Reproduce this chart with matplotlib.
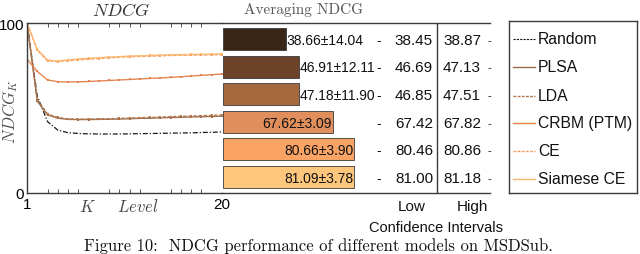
import matplotlib
matplotlib.use("Agg")
import matplotlib.pyplot as plt
from matplotlib.transforms import blended_transform_factory

plt.rcParams['mathtext.fontset'] = 'cm'
plt.rcParams['font.family'] = ['Liberation Sans', 'DejaVu Sans']

# ---------------- data ----------------
models = ["Random", "PLSA", "LDA", "CRBM (PTM)", "CE", "Siamese CE"]
K = list(range(1, 21))
ndcg_random = [100, 57, 42, 37, 35.5, 35, 34.8, 34.7, 34.7, 34.7, 34.8, 34.9, 35, 35.1, 35.2, 35.3, 35.4, 35.6, 35.7, 35.9]
ndcg_plsa = [100, 54, 46, 44, 43.3, 43.2, 43.2, 43.3, 43.4, 43.5, 43.7, 43.9, 44, 44.2, 44.4, 44.5, 44.7, 44.9, 45, 45.2]
ndcg_lda = [100, 55, 46.5, 44.5, 43.6, 43.5, 43.5, 43.6, 43.7, 43.9, 44.1, 44.3, 44.5, 44.7, 44.9, 45.1, 45.3, 45.5, 45.7, 45.9]
ndcg_crbm = [78.8, 71.5, 66.5, 65.5, 65.3, 65.4, 65.6, 65.9, 66.2, 66.5, 66.8, 67.1, 67.4, 67.7, 68, 68.4, 68.8, 69.2, 69.6, 70]
ndcg_ce = [100, 84, 77.8, 77.3, 77.8, 78.3, 78.7, 79.1, 79.5, 79.8, 80.1, 80.3, 80.5, 80.7, 80.9, 81.0, 81.1, 81.2, 81.3, 81.4]
ndcg_siamese = [100, 84.5, 78.2, 77.6, 78.3, 78.8, 79.2, 79.6, 79.9, 80.2, 80.5, 80.7, 80.9, 81.1, 81.3, 81.4, 81.5, 81.6, 81.7, 81.8]
avg_mean = [38.66, 46.91, 47.18, 67.62, 80.66, 81.09]
avg_std = [14.04, 12.11, 11.90, 3.09, 3.90, 3.78]
ci_low = [38.45, 46.69, 46.85, 67.42, 80.46, 81.00]
ci_high = [38.87, 47.13, 47.51, 67.82, 80.86, 81.18]
curves = [ndcg_random, ndcg_plsa, ndcg_lda, ndcg_crbm, ndcg_ce, ndcg_siamese]

line_colors = ["#1a1a1a", "#9a6a4a", "#b4764a", "#e4804a", "#f59a5c", "#fcb56c"]
line_styles = [(0, (4, 1.5, 1, 1.5)), "-", (0, (2.5, 1.2)), "-", (0, (2.5, 1.2)), "-"]
bar_colors = ["#3a2617", "#6c4329", "#a5693f", "#e08f5c", "#f9a465", "#fdc67d"]

W, H = 640, 255
fig = plt.figure(figsize=(W / 100, H / 100), dpi=100)


def fx(px):
    return px / W


def fy(py):
    return 1 - py / H


frame_col = "#3a3a3a"

# ---------------- line plot ----------------
ax = fig.add_axes([fx(27), fy(194), fx(222) - fx(27), (194 - 24) / H])
for vals, c, ls, name in zip(curves, line_colors, line_styles, models):
    if name == "Random":
        ax.plot(K, vals, color=c, ls=ls, lw=0.9)
    else:
        ax.plot(K, vals, color=c, ls=ls, lw=1.0, marker='s', ms=2.0, mew=0, alpha=0.95)
ax.set_xlim(1, 20)
ax.set_ylim(0, 100)
ax.set_xticks([1, 20])
ax.set_xticklabels(["1", "20"], fontsize=11)
ax.set_xticks([3, 4, 5, 6, 9, 10, 11, 12, 15, 16, 17, 18], minor=True)
ax.tick_params(axis='x', which='both', direction='in', top=True, length=0, pad=3)
ax.tick_params(axis='x', which='minor', length=3, width=0.7, color="#555555")
ax.set_yticks([0, 100])
ax.set_yticklabels(["0", "100"], fontsize=11)
ax.tick_params(axis='y', length=0, pad=2)
for s in ["left", "bottom", "top"]:
    ax.spines[s].set_color(frame_col)
    ax.spines[s].set_linewidth(1.0)
ax.spines["right"].set_visible(False)
ax.patch.set_alpha(0)

fig.text(fx(121), fy(11), r"$NDCG$", ha='center', va='center', fontsize=13, color="#333333")
fig.text(fx(10), fy(112), r"$NDCG_K$", ha='center', va='center', fontsize=12, color="#555555", rotation=90)
fig.text(fx(119), fy(207), r"$K\quad\ \ Level$", ha='center', va='center', fontsize=12, color="#444444")

# ---------------- bar table ----------------
px_per_unit = 1.62
x0_px, x1_px = 222, 490
ax2 = fig.add_axes([fx(x0_px), fy(194), fx(x1_px) - fx(x0_px), (194 - 24) / H])
ax2.set_xlim(-1 / px_per_unit, (x1_px - x0_px - 1) / px_per_unit)
ax2.set_ylim(5.58, -0.58)
ypos = list(range(len(models)))
ax2.barh(ypos, avg_mean, height=0.8, color=bar_colors, edgecolor="#3a3a3a", linewidth=0.6)
for s in ["left", "right"]:
    ax2.spines[s].set_visible(False)
for s in ["top", "bottom"]:
    ax2.spines[s].set_color(frame_col)
    ax2.spines[s].set_linewidth(1.0)
ax2.set_xticks([])
ax2.set_yticks([])
ax2.patch.set_alpha(0)

renderer = fig.canvas.get_renderer()
trans = blended_transform_factory(fig.transFigure, ax2.transData)
for y, m, sd, lo, hi in zip(ypos, avg_mean, avg_std, ci_low, ci_high):
    label = f"{m:.2f}\u00b1{sd:.2f}"
    if m > 55:
        t = ax2.text(m - 0.3, y + 0.03, label, ha='right', va='center', fontsize=10, color="#111111")
    else:
        t = ax2.text(m + 0.3, y + 0.03, label, ha='left', va='center', fontsize=10, color="#111111")
    x_end = t.get_window_extent(renderer).x1
    dash_x = max(379, x_end + 3)
    ax2.text(fx(dash_x), y + 0.03, "-", ha='center', va='center', fontsize=10,
             color="#111111", transform=trans)
    ax2.text(fx(433), y + 0.03, f"{lo:.2f}", ha='right', va='center', fontsize=11,
             color="#111111", transform=trans)
    ax2.text(fx(443), y + 0.03, f"{hi:.2f}", ha='left', va='center', fontsize=11,
             color="#111111", transform=trans)
    ax2.text(fx(489), y + 0.03, "-", ha='center', va='center', fontsize=8,
             color="#111111", transform=trans)
ax2.axvline((437 - 223) / px_per_unit, color=frame_col, lw=1.0)

fig.text(fx(303), fy(10), "Averaging NDCG", ha='center', va='center', fontsize=11,
         family='cmr10', color="#555555")
fig.text(fx(412), fy(207), "Low", ha='center', va='center', fontsize=11, color="#111111")
fig.text(fx(472), fy(207), "High", ha='center', va='center', fontsize=11, color="#111111")
fig.text(fx(436), fy(228), "Confidence Intervals", ha='center', va='center', fontsize=10.5, color="#111111")

# ---------------- legend box ----------------
axl = fig.add_axes([fx(509), fy(194), fx(637) - fx(509), (194 - 22) / H])
axl.set_xlim(509, 637)
axl.set_ylim(194, 22)
axl.set_xticks([])
axl.set_yticks([])
for s in axl.spines.values():
    s.set_color(frame_col)
    s.set_linewidth(1.0)
leg_y = [40, 68, 96.5, 124, 152, 180]
for yy, name, c, ls in zip(leg_y, models, line_colors, line_styles):
    lw = 0.8 if name == "Random" else 1.0
    axl.plot([513, 535], [yy, yy], color=c, ls=(0, (2, 1)) if name in ("Random", "LDA", "CE") else "-", lw=lw)
    axl.text(538, yy, name, ha='left', va='center', fontsize=11.3, color="#111111")

# ---------------- caption ----------------
fig.text(fx(318), fy(246), "Figure 10:  NDCG performance of different models on MSDSub.",
         ha='center', va='center', fontsize=12, family='cmr10', color="#111111")

fig.savefig("out.png", dpi=100)
